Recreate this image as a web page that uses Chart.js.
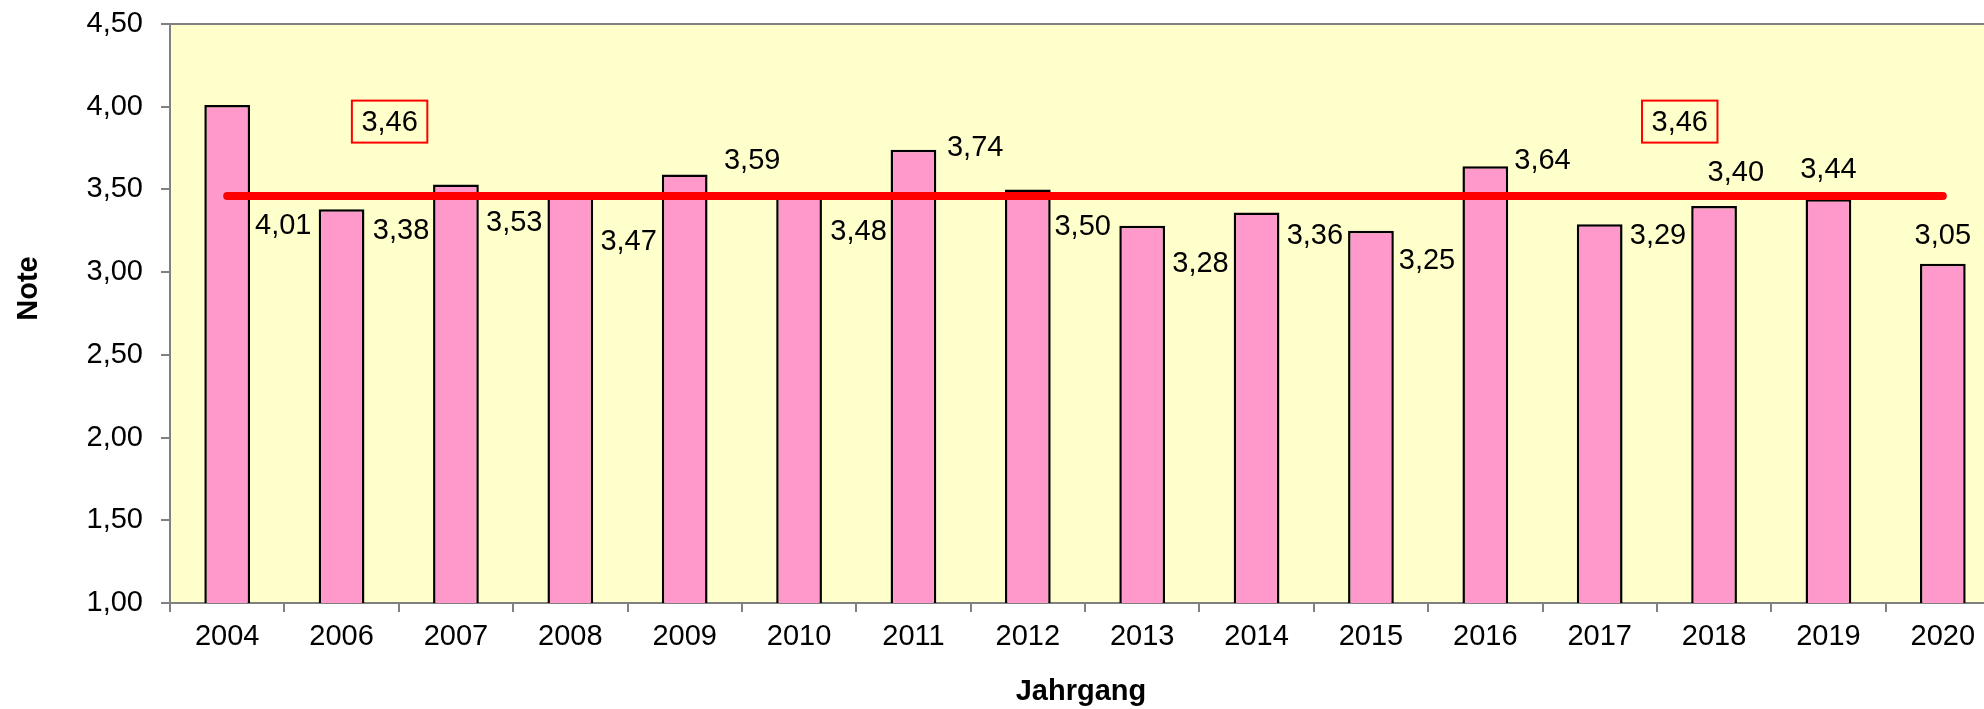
<!DOCTYPE html>
<html>
<head>
<meta charset="utf-8">
<script src="https://cdn.jsdelivr.net/npm/chart.js@4"></script>
<style>
  html, body { margin: 0; padding: 0; background: #ffffff; overflow: hidden; }
  canvas { display: block; }
</style>
</head>
<body>
<canvas id="noteChart" width="2010" height="709"></canvas>
<script>
// Jahrgang / Note
const years = ['2004', '2006', '2007', '2008', '2009', '2010', '2011', '2012',
               '2013', '2014', '2015', '2016', '2017', '2018', '2019', '2020'];
const notes = [4.01, 3.38, 3.53, 3.47, 3.59, 3.48, 3.74, 3.50,
               3.28, 3.36, 3.25, 3.64, 3.29, 3.40, 3.44, 3.05];
const mean = [3.46, 3.46, 3.46, 3.46, 3.46, 3.46, 3.46, 3.46,
              3.46, 3.46, 3.46, 3.46, 3.46, 3.46, 3.46, 3.46];
const yTicks = [1.00, 1.50, 2.00, 2.50, 3.00, 3.50, 4.00, 4.50];

// where Excel left the value labels (level on the y scale, shift in category widths)
const labelLevel = [3.28, 3.25, 3.30, 3.18, 3.67, 3.24, 3.75, 3.27,
                    3.05, 3.22, 3.07, 3.67, 3.22, 3.60, 3.62, 3.22];
const labelShift = [0.49, 0.52, 0.51, 0.51, 0.59, 0.52, 0.54, 0.48,
                    0.51, 0.51, 0.49, 0.50, 0.51, 0.19, 0.00, 0.00];
// the two boxed mean labels
const meanBoxAt = [1.42, 12.7];
const meanBoxLevel = 3.91;

const FONT = '"Liberation Sans", Arial, sans-serif';
const fmt = v => v.toFixed(2).replace('.', ',');

const extras = {
    id: 'extras',
    beforeDraw(chart) {
        const { ctx, chartArea: a } = chart;
        ctx.save();
        ctx.fillStyle = '#FFFFCC';
        ctx.fillRect(a.left, a.top, a.right - a.left, a.bottom - a.top);
        ctx.strokeStyle = '#808080';
        ctx.lineWidth = 2;
        ctx.beginPath();
        ctx.moveTo(a.left, a.top);
        ctx.lineTo(a.right, a.top);
        ctx.stroke();
        ctx.restore();
    },
    afterDatasetsDraw(chart) {
        const { ctx, chartArea: a, scales: { x, y } } = chart;
        const step = x.getPixelForValue(1) - x.getPixelForValue(0);
        ctx.save();
        ctx.font = '29px ' + FONT;
        ctx.fillStyle = '#000000';
        ctx.textAlign = 'center';
        ctx.textBaseline = 'middle';
        notes.forEach((v, i) => {
            const px = x.getPixelForValue(i) + labelShift[i] * step;
            const py = y.getPixelForValue(labelLevel[i]);
            ctx.fillText(fmt(v), px, py);
        });

        // boxed mean labels
        const txt = fmt(mean[0]);
        const w = ctx.measureText(txt).width + 19;
        const h = 42;
        meanBoxAt.forEach(pos => {
            const cx = x.getPixelForValue(0) + pos * step;
            const cy = y.getPixelForValue(meanBoxLevel);
            ctx.strokeStyle = '#FF0000';
            ctx.lineWidth = 2;
            ctx.strokeRect(cx - w / 2, cy - h / 2, w, h);
            ctx.fillStyle = '#000000';
            ctx.fillText(txt, cx, cy + 1);
        });

        // axis titles
        ctx.font = 'bold 29px ' + FONT;
        ctx.textBaseline = 'alphabetic';
        ctx.fillText('Jahrgang', (a.left + a.right) / 2 - 4, a.bottom + 97);
        ctx.translate(37, (a.top + a.bottom) / 2 - 25);
        ctx.rotate(-Math.PI / 2);
        ctx.fillText('Note', 0, 0);
        ctx.restore();
    }
};

const ctx = document.getElementById('noteChart').getContext('2d');
const noteChart = new Chart(ctx, {
    type: 'bar',
    data: {
        labels: years,
        datasets: [
            {
                type: 'line',
                label: 'Mittelwert',
                data: mean,
                borderColor: '#FF0000',
                borderWidth: 8,
                borderCapStyle: 'round',
                pointRadius: 0,
                tension: 0,
                fill: false,
                order: 0
            },
            {
                label: 'Note',
                data: notes,
                backgroundColor: '#FF99CC',
                borderColor: '#000000',
                borderWidth: 2.5,
                borderSkipped: false,
                barPercentage: 0.4,
                categoryPercentage: 1.0,
                order: 1
            }
        ]
    },
    options: {
        responsive: false,
        animation: false,
        layout: { padding: { top: 24, right: 10, bottom: 0, left: 0 } },
        plugins: {
            legend: { display: false },
            tooltip: { enabled: false }
        },
        scales: {
            x: {
                grid: { offset: true, drawOnChartArea: false, tickLength: 9, color: '#808080', lineWidth: 2 },
                border: { color: '#808080', width: 2 },
                ticks: { color: '#000000', padding: 8, maxRotation: 0, font: { family: FONT, size: 29 } },
                afterFit: s => { s.height = 106; }
            },
            y: {
                min: 1,
                max: 4.5,
                afterBuildTicks: s => { s.ticks = yTicks.map(v => ({ value: v })); },
                grid: { drawOnChartArea: false, tickLength: 9, color: '#808080', lineWidth: 2 },
                border: { color: '#808080', width: 2 },
                ticks: {
                    color: '#000000',
                    padding: 18,
                    font: { family: FONT, size: 29 },
                    callback: v => fmt(v)
                },
                afterFit: s => { s.width = 170; s.paddingTop = 0; s.paddingBottom = 0; }
            }
        }
    },
    plugins: [extras]
});
</script>
</body>
</html>
